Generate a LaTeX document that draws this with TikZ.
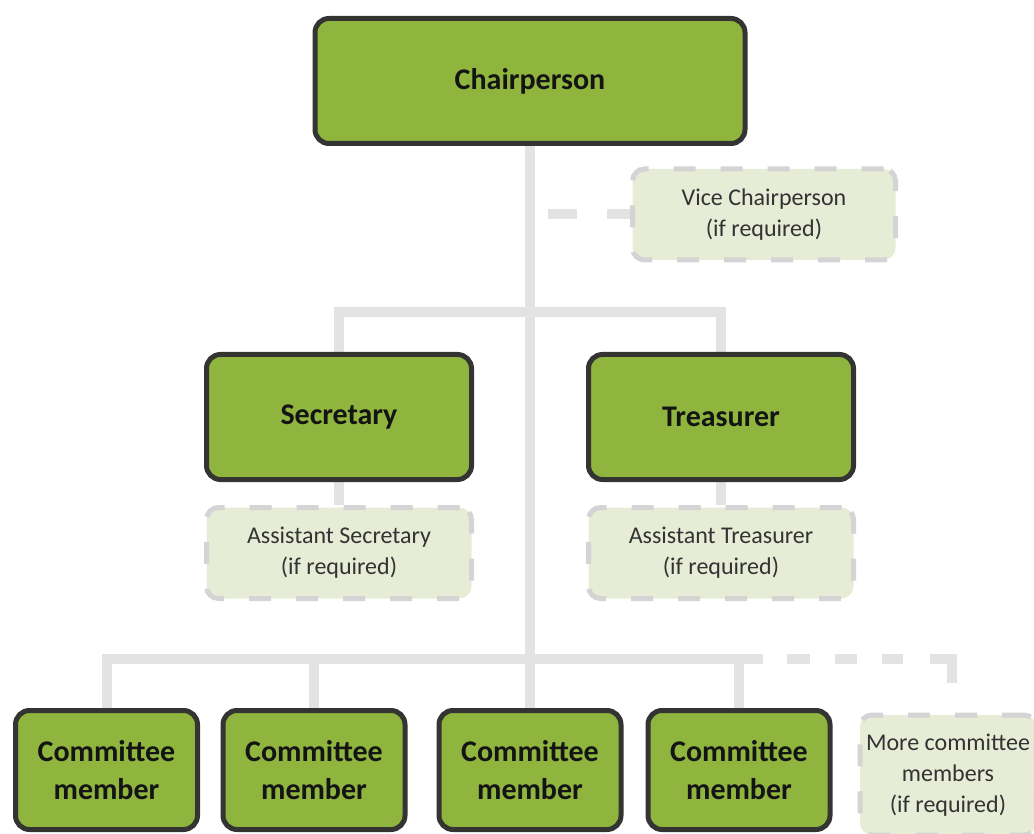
\documentclass[tikz,border=0pt]{standalone}
\usepackage{fontspec}
\setmainfont{Carlito}
\usetikzlibrary{positioning,backgrounds}

\definecolor{leafgreen}{RGB}{143,181,63}
\definecolor{paleleaf}{RGB}{230,236,214}
\definecolor{edgegray}{RGB}{52,52,50}
\definecolor{linkgray}{RGB}{227,227,227}
\definecolor{dashgray}{RGB}{212,212,212}

\begin{document}
\begin{tikzpicture}[
    x=0.5pt, y=-0.5pt,
    office/.style={draw=edgegray, line width=2.5pt, fill=leafgreen, rounded corners=7pt, align=center, inner sep=0pt, text=black!92, font=\fontsize{15}{19}\selectfont\bfseries},
    member/.style={office, minimum width=91pt, minimum height=59.5pt},
    optional/.style={draw=dashgray, line width=2.5pt, dash pattern=on 11pt off 12.5pt, fill=paleleaf, rounded corners=6pt, align=center, inner sep=0pt, text=black!80, font=\fontsize{12}{15.5}\selectfont},
    link/.style={draw=linkgray, line width=5pt},
    dashlink/.style={link, dash pattern=on 11.5pt off 15pt on 14.5pt off 15pt}
]
\useasboundingbox (0,0) rectangle (1034,834);

% office holders
\node[office, minimum width=215pt, minimum height=62.5pt] (chair) at (530,81) {Chairperson};
\node[office, minimum width=132.5pt, minimum height=62.5pt] (sec) at (339,417) {Secretary};
\node[office, minimum width=132.5pt, minimum height=62.5pt] (tres) at (721,417) {Treasurer};

% optional posts
\node[optional, minimum width=131.5pt, minimum height=45.5pt] (vice) at (764,214.5) {Vice Chairperson\\(if required)};
\node[optional, minimum width=132.5pt, minimum height=45.5pt] (asec) at (339,553) {Assistant Secretary\\(if required)};
\node[optional, minimum width=132.5pt, minimum height=45.5pt] (atres) at (721,553) {Assistant Treasurer\\(if required)};

% committee row
\foreach \n/\x in {1/106.5, 2/314, 3/530, 4/739}
  \node[member] (cm\n) at (\x,770) {Committee\\member};
\node[optional, minimum width=88pt, minimum height=60pt] (more) at (948,775) {More committee\\members\\(if required)};

\begin{scope}[on background layer]
  \draw[link] (chair.south) -- (cm3.north);
  \coordinate (upbus) at (530,312);
  \draw[link] (sec.north) |- (upbus) -| (tres.north);
  \draw[link] (sec.south) -- (asec.north);
  \draw[link] (tres.south) -- (atres.north);
  \draw[dashlink] (vice.west) -- (vice.west -| chair.south);
  % lower bus and its dashed extension
  \coordinate (lowend) at (763,659);
  \draw[link] (cm1.north) |- (lowend);
  \foreach \n in {2,4}
    \draw[link] (cm\n.north) -- (cm\n.north |- lowend);
  \coordinate (moredash) at (787,659);
  \coordinate (morecorner) at (952,659);
  \coordinate (moretip) at (952,683);
  \draw[link, dash pattern=on 11.5pt off 12.5pt on 11pt off 12.5pt on 10.5pt off 13.5pt on 30pt] (moredash) -- (morecorner) -- (moretip);
\end{scope}
\end{tikzpicture}
\end{document}
